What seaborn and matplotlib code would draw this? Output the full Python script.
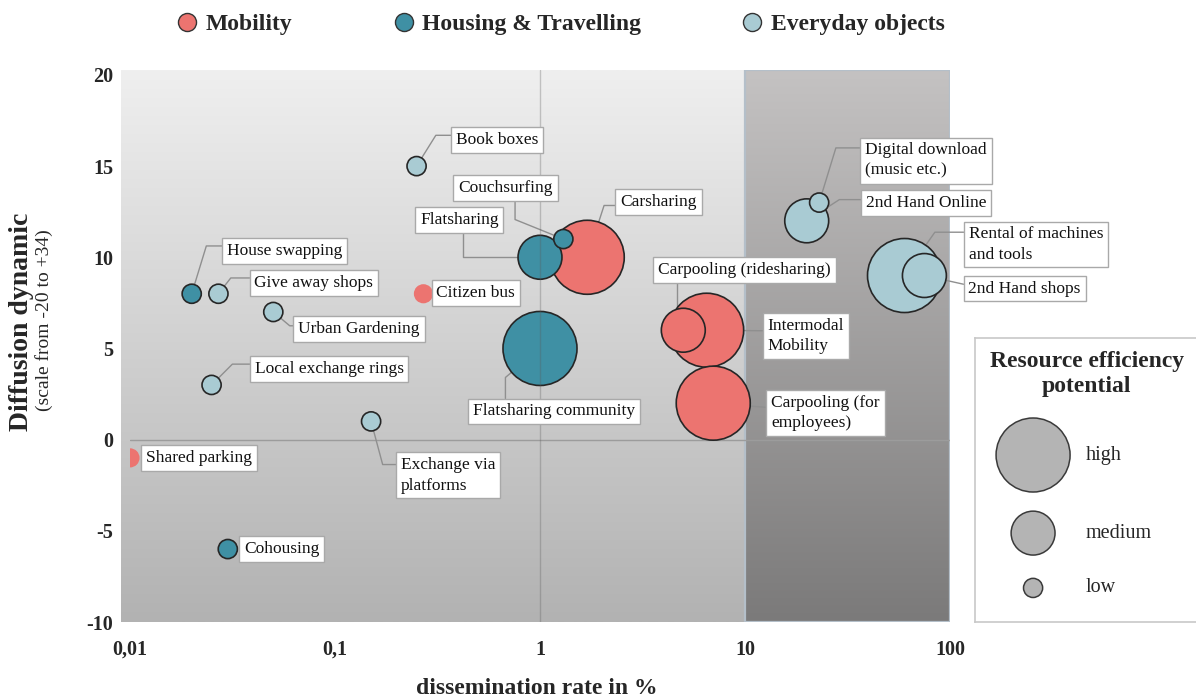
import numpy as np
import pandas as pd
import matplotlib.pyplot as plt
import seaborn as sns
from matplotlib.lines import Line2D
from matplotlib.colors import LinearSegmentedColormap

# data
names = ['Book boxes', 'Couchsurfing', 'Flatsharing', 'Carsharing', 'House swapping',
         'Give away shops', 'Citizen bus', 'Urban Gardening', 'Local exchange rings',
         'Exchange via\nplatforms', 'Shared parking', 'Cohousing', 'Flatsharing community',
         'Carpooling (ridesharing)', 'Intermodal\nMobility', 'Carpooling (for\nemployees)',
         'Digital download\n(music etc.)', '2nd Hand Online', 'Rental of machines\nand tools',
         '2nd Hand shops']
rate = [0.25, 1.3, 1.0, 1.7, 0.02, 0.027, 0.27, 0.05, 0.025, 0.15, 0.01, 0.03, 1.0,
        5.0, 6.5, 7.0, 23, 20, 60, 75]
dynamic = [15, 11, 10, 10, 8, 8, 8, 7, 3, 1, -1, -6, 5, 6, 6, 2, 13, 12, 9, 9]
field = ['Everyday objects', 'Housing & Travelling', 'Housing & Travelling', 'Mobility',
         'Housing & Travelling', 'Everyday objects', 'Mobility', 'Everyday objects',
         'Everyday objects', 'Everyday objects', 'Mobility', 'Housing & Travelling',
         'Housing & Travelling', 'Mobility', 'Mobility', 'Mobility', 'Everyday objects',
         'Everyday objects', 'Everyday objects', 'Everyday objects']
potential = ['low', 'low', 'medium', 'high', 'low', 'low', 'low', 'low', 'low', 'low',
             'low', 'low', 'high', 'medium', 'high', 'high', 'low', 'medium', 'high', 'medium']

fields = ['Mobility', 'Housing & Travelling', 'Everyday objects']
colours = ['#ec7470', '#3f90a4', '#a9cbd3']
levels = ['high', 'medium', 'low']
areas = [2840, 1000, 190]
no_edge = ['Citizen bus', 'Shared parking']

# label layout: offset of text (pixels) and leader line (relpos, connection)
label_pos = {
    'Book boxes': (39, 26, (0, 0.8), 'angle,angleA=0,angleB=58,rad=0'),
    'Couchsurfing': (-105, 51, (0.6, 0), 'angle,angleA=90,angleB=-22,rad=0'),
    'Flatsharing': (-120, 37, (0.55, 0), 'angle,angleA=90,angleB=0,rad=0'),
    'Carsharing': (33, 55, (0, 0.3), 'angle,angleA=0,angleB=72,rad=0'),
    'House swapping': (35, 43, (0, 0.8), 'angle,angleA=0,angleB=73,rad=0'),
    'Give away shops': (36, 11, (0, 0.8), 'angle,angleA=0,angleB=52,rad=0'),
    'Citizen bus': (13, 1, None, None),
    'Urban Gardening': (25, -17, (0, 0.7), 'angle,angleA=0,angleB=-40,rad=0'),
    'Local exchange rings': (43, 16, (0, 0.8), 'angle,angleA=0,angleB=45,rad=0'),
    'Exchange via\nplatforms': (30, -54, (0, 0.8), 'angle,angleA=0,angleB=-75,rad=0'),
    'Shared parking': (16, 0, None, None),
    'Cohousing': (16, 0, None, None),
    'Flatsharing community': (-67, -63, (0.2, 1), 'angle,angleA=90,angleB=40,rad=0'),
    'Carpooling (ridesharing)': (-25, 60, (0.11, 0), 'angle,angleA=90,angleB=0,rad=0'),
    'Intermodal\nMobility': (61, -6, (0, 0.65), 'arc3,rad=0'),
    'Carpooling (for\nemployees)': (58, -10, (0, 0.65), 'arc3,rad=0'),
    'Digital download\n(music etc.)': (46, 42, (0, 0.85), 'angle,angleA=0,angleB=73,rad=0'),
    '2nd Hand Online': (59, 18, (0, 0.7), 'angle,angleA=0,angleB=33,rad=0'),
    'Rental of machines\nand tools': (64, 31, (0, 0.84), 'angle,angleA=0,angleB=55,rad=0'),
    '2nd Hand shops': (44, -13, (0, 0.7), 'arc3,rad=0'),
}

sns.set_theme(style='white')
plt.rcParams['font.family'] = ['Liberation Serif', 'DejaVu Serif']

df = pd.DataFrame({'name': names, 'rate': rate, 'dynamic': dynamic,
                   'field': field, 'potential': potential})
# big circles first so the small ones sit on top
df['rank'] = df['potential'].map({l: i for i, l in enumerate(levels)})
df = df.sort_values('rank', kind='stable').reset_index(drop=True)

W, H = 1196, 700
fig = plt.figure(figsize=(W / 100, H / 100), dpi=100)

# light gradient background (starts a bit left of the axes)
bg = fig.add_axes([121 / W, 78 / H, 829 / W, 552 / H])
bg.axis('off')
grad = np.linspace(0, 1, 256).reshape(-1, 1)
bg.imshow(grad, aspect='auto', extent=(0, 1, 0, 1),
          cmap=LinearSegmentedColormap.from_list('bg', ['#efefef', '#b2b2b2']))

ax = fig.add_axes([130 / W, 78 / H, 820 / W, 552 / H])
ax.set_facecolor('none')
ax.set_xscale('log')
xmin, xmax = 0.01, 100

# dark panel for rates above 10 %
f10 = (np.log10(10) - np.log10(xmin)) / (np.log10(xmax) - np.log10(xmin))
ax.imshow(grad, aspect='auto', extent=(f10, 1, 0, 1), transform=ax.transAxes, zorder=0,
          cmap=LinearSegmentedColormap.from_list('dk', ['#c4c2c2', '#7b7a7a']))
ax.axvspan(10, 100, fill=False, ec='#b4bfc9', lw=1.6, zorder=1)
ax.set_xlim(xmin, xmax)
ax.set_ylim(-10, 20.27)

ax.axhline(0, color='#9c9c9c', lw=1, zorder=1)
ax.axvline(1, color='#5a5a5a', lw=1, alpha=0.3, zorder=4)

sns.scatterplot(data=df, x='rate', y='dynamic', hue='field', hue_order=fields,
                palette=colours, size='potential', size_order=levels,
                sizes=dict(zip(levels, areas)), edgecolor='#262626', linewidth=1.2,
                alpha=1, legend=False, ax=ax, zorder=3)
pts = ax.collections[-1]
pts.set_edgecolors(['none' if n in no_edge else '#262626' for n in df['name']])

box = dict(boxstyle='square,pad=0.28', fc='white', ec='#a9a9a9', lw=1)
for n, x, y in zip(df['name'], df['rate'], df['dynamic']):
    dx, dy, rel, conn = label_pos[n]
    if conn is not None:
        ax.annotate(n, (x, y), xytext=(dx, dy), textcoords='offset pixels',
                    fontsize=12.5, va='center', ha='left', color='none', linespacing=1.35,
                    bbox=dict(boxstyle='square,pad=0.28', fc='none', ec='none'),
                    arrowprops=dict(arrowstyle='-', color='#8f8f8f', lw=1,
                                    relpos=rel, connectionstyle=conn, shrinkA=0),
                    zorder=2)
    ax.annotate(n, (x, y), xytext=(dx, dy), textcoords='offset pixels',
                fontsize=12.5, va='center', ha='left', color='#111111', linespacing=1.35,
                bbox=box, zorder=5)

ax.set_xticks([0.01, 0.1, 1, 10, 100])
ax.set_xticklabels(['0,01', '0,1', '1', '10', '100'])
ax.xaxis.set_minor_locator(plt.NullLocator())
ax.set_yticks([-10, -5, 0, 5, 10, 15, 20])
ax.set_yticklabels(['-10', '-5', '0', '5', '10', '15', '20'])
ax.tick_params(axis='x', length=0, pad=13, labelsize=14.5)
ax.tick_params(axis='y', length=0, pad=12, labelsize=14.5)
for t in ax.get_xticklabels() + ax.get_yticklabels():
    t.set_fontweight('bold')
for s in ax.spines.values():
    s.set_visible(False)
ax.set_xlabel('')
ax.set_ylabel('')

fig.text(537 / W, 1 - 688 / H, 'dissemination rate in %', fontsize=17,
         fontweight='bold', ha='center', va='center')
fig.text(22 / W, 1 - 322 / H, 'Diffusion dynamic', fontsize=20, fontweight='bold',
         rotation=90, ha='center', va='center')
fig.text(44 / W, 1 - 320 / H, '(scale from -20 to +34)', fontsize=14,
         rotation=90, ha='center', va='center')

# category legend on top
handles = [Line2D([], [], marker='o', ls='', markersize=13, markerfacecolor=c,
                  markeredgecolor='#333333', markeredgewidth=1) for c in colours]
fig.legend(handles, fields, loc='center', bbox_to_anchor=(559 / W, 1 - 24 / H),
           ncol=3, frameon=False, prop={'weight': 'bold', 'size': 17},
           handletextpad=0.2, columnspacing=4.1, handlelength=1.2)

# size legend box
lg = fig.add_axes([975 / W, 78 / H, 240 / W, 284 / H])
lg.set_xlim(0, 1)
lg.set_ylim(0, 1)
lg.set_xticks([])
lg.set_yticks([])
lg.set_facecolor('white')
for s in lg.spines.values():
    s.set_color('#c8c8c8')
    s.set_linewidth(1.2)
sns.scatterplot(x=[0.242] * 3, y=[0.588, 0.313, 0.12], size=levels, size_order=levels,
                sizes=dict(zip(levels, areas)), color='#b4b4b4', edgecolor='#3a3a3a',
                linewidth=1.1, legend=False, ax=lg)
lg.text(0.465, 0.873, 'Resource efficiency\npotential', ha='center', va='center',
        fontsize=17, fontweight='bold', linespacing=1.3)
for lev, yy in zip(levels, [0.588, 0.313, 0.12]):
    lg.text(0.4625, yy, lev, ha='left', va='center', fontsize=14.5)

fig.savefig('out.png', dpi=100)
